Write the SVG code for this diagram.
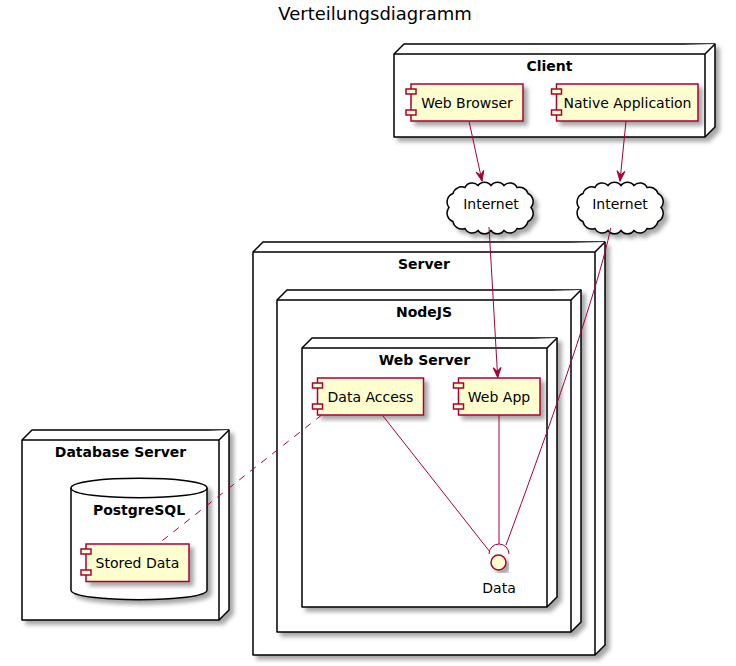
<svg xmlns="http://www.w3.org/2000/svg" xmlns:xlink="http://www.w3.org/1999/xlink" width="736" height="666" viewBox="0 0 736 666">
<style>
text{font-family:"DejaVu Sans","Liberation Sans",sans-serif;fill:#000}
.title{font-size:18px}
.ntitle{font-size:14px;font-weight:bold}
.clabel{font-size:14px}
.node{fill:#FFFFFF;stroke:#000;stroke-width:1.5;stroke-linejoin:round}
.comp{fill:#FEFECE;stroke:#A80036;stroke-width:1.5}
.cloud{fill:#FFFFFF;stroke:#000;stroke-width:1.5}
.iface{fill:#FEFECE;stroke:#A80036;stroke-width:1.5}
.link{fill:none;stroke:#A80036;stroke-width:1}
.dash{stroke-dasharray:7,7}
</style>
<defs>
<filter id="sh" x="-10%" y="-10%" width="130%" height="130%">
<feDropShadow dx="4" dy="4" stdDeviation="2" flood-color="#000" flood-opacity="0.35"/>
</filter>
<marker id="arr" viewBox="-11 -5 12 10" refX="0" refY="0" markerWidth="12" markerHeight="10" markerUnits="userSpaceOnUse" orient="auto">
<path d="M0,0 L-10,-4 L-6,0 L-10,4 Z" fill="#A80036" stroke="#A80036" stroke-width="1"/>
</marker>
<path id="cloudshape" d="M-41,0 A9,9 0 0 1 -37,-14 A9,9 0 0 1 -25,-20 A8,8 0 0 1 -12,-22 A8,8 0 0 1 1,-22 A8,8 0 0 1 14,-22 A8,8 0 0 1 27,-20 A9,9 0 0 1 38,-14 A9,9 0 0 1 41,0 A9,9 0 0 1 38,14 A9,9 0 0 1 27,21 A8,8 0 0 1 14,23 A8,8 0 0 1 1,23 A8,8 0 0 1 -12,23 A8,8 0 0 1 -25,21 A9,9 0 0 1 -37,14 A9,9 0 0 1 -41,0 Z"/>
</defs>
<rect width="736" height="666" fill="#FFFFFF"/>
<text class="title" x="375" y="20" text-anchor="middle">Verteilungsdiagramm</text>

<g id="client">
<path class="node" filter="url(#sh)" d="M394,54 L404,44 L715,44 L715,127 L705,137 L394,137 Z"/>
<path class="node" d="M394,54 L705,54 L715,44 M705,54 L705,137"/>
<text class="ntitle" x="549.5" y="71" text-anchor="middle">Client</text>
</g>
<g id="webbrowser">
<rect class="comp" filter="url(#sh)" x="411" y="84" width="112" height="37"/>
<rect class="comp" x="406" y="89" width="10" height="5"/>
<rect class="comp" x="406" y="110" width="10" height="5"/>
<text class="clabel" x="467" y="107.5" text-anchor="middle">Web Browser</text>
</g>
<g id="nativeapp">
<rect class="comp" filter="url(#sh)" x="556.5" y="84" width="141.5" height="37"/>
<rect class="comp" x="551.5" y="89" width="10" height="5"/>
<rect class="comp" x="551.5" y="110" width="10" height="5"/>
<text class="clabel" x="627.5" y="107.5" text-anchor="middle">Native Application</text>
</g>

<g id="internet1">
<use href="#cloudshape" class="cloud" filter="url(#sh)" transform="translate(490,207.5)"/>
<text class="clabel" x="491" y="208.5" text-anchor="middle">Internet</text>
</g>
<g id="internet2">
<use href="#cloudshape" class="cloud" filter="url(#sh)" transform="translate(620,207.5)"/>
<text class="clabel" x="620" y="208.5" text-anchor="middle">Internet</text>
</g>

<g id="server">
<path class="node" filter="url(#sh)" d="M253,252 L263,242 L605,242 L605,645 L595,655 L253,655 Z"/>
<path class="node" d="M253,252 L595,252 L605,242 M595,252 L595,655"/>
<text class="ntitle" x="424" y="269" text-anchor="middle">Server</text>
</g>
<g id="nodejs">
<path class="node" filter="url(#sh)" d="M277,300 L287,290 L581,290 L581,622 L571,632 L277,632 Z"/>
<path class="node" d="M277,300 L571,300 L581,290 M571,300 L571,632"/>
<text class="ntitle" x="424" y="317" text-anchor="middle">NodeJS</text>
</g>
<g id="webserver">
<path class="node" filter="url(#sh)" d="M302,348 L312,338 L557,338 L557,597 L547,607 L302,607 Z"/>
<path class="node" d="M302,348 L547,348 L557,338 M547,348 L547,607"/>
<text class="ntitle" x="424.5" y="365" text-anchor="middle">Web Server</text>
</g>
<g id="dataaccess">
<rect class="comp" filter="url(#sh)" x="317.5" y="378" width="106" height="37"/>
<rect class="comp" x="312.5" y="383" width="10" height="5"/>
<rect class="comp" x="312.5" y="404" width="10" height="5"/>
<text class="clabel" x="370.5" y="401.5" text-anchor="middle">Data Access</text>
</g>
<g id="webapp">
<rect class="comp" filter="url(#sh)" x="458.5" y="378" width="81.5" height="37"/>
<rect class="comp" x="453.5" y="383" width="10" height="5"/>
<rect class="comp" x="453.5" y="404" width="10" height="5"/>
<text class="clabel" x="499" y="401.5" text-anchor="middle">Web App</text>
</g>
<g id="data">
<circle class="iface" filter="url(#sh)" cx="498.5" cy="562.5" r="7.5"/>
<text class="clabel" x="499" y="592.5" text-anchor="middle">Data</text>
</g>

<g id="dbserver">
<path class="node" filter="url(#sh)" d="M22,440 L32,430 L229,430 L229,610 L219,620 L22,620 Z"/>
<path class="node" d="M22,440 L219,440 L229,430 M219,440 L219,620"/>
<text class="ntitle" x="120.5" y="457" text-anchor="middle">Database Server</text>
</g>
<g id="postgresql">
<path class="node" filter="url(#sh)" d="M71,488 C71,475 207,475 207,488 L207,590 C207,603 71,603 71,590 Z"/>
<path class="node" fill="none" d="M71,488 C71,501 207,501 207,488"/>
<text class="ntitle" x="139" y="514.5" text-anchor="middle">PostgreSQL</text>
</g>
<g id="storeddata">
<rect class="comp" filter="url(#sh)" x="86" y="544" width="103" height="37.5"/>
<rect class="comp" x="81" y="549" width="10" height="5"/>
<rect class="comp" x="81" y="570" width="10" height="5"/>
<text class="clabel" x="137.5" y="568" text-anchor="middle">Stored Data</text>
</g>

<g id="connectors">
<path class="link" marker-end="url(#arr)" d="M469,121 L482,181"/>
<path class="link" marker-end="url(#arr)" d="M626,121 L620,181"/>
<path class="link" marker-end="url(#arr)" d="M489,227 L497.7,377.5"/>
<path class="link" d="M610.7,228 C598,290 545,440 506,545"/>
<path class="link" d="M499,415 L499,544"/>
<path class="link" d="M383,416 L490,552"/>
<path class="link dash" d="M321.7,415 L158,544"/>
<path class="link" stroke-width="1.5" d="M489,554 A10,10 0 0 1 509,554"/>
</g>
</svg>
